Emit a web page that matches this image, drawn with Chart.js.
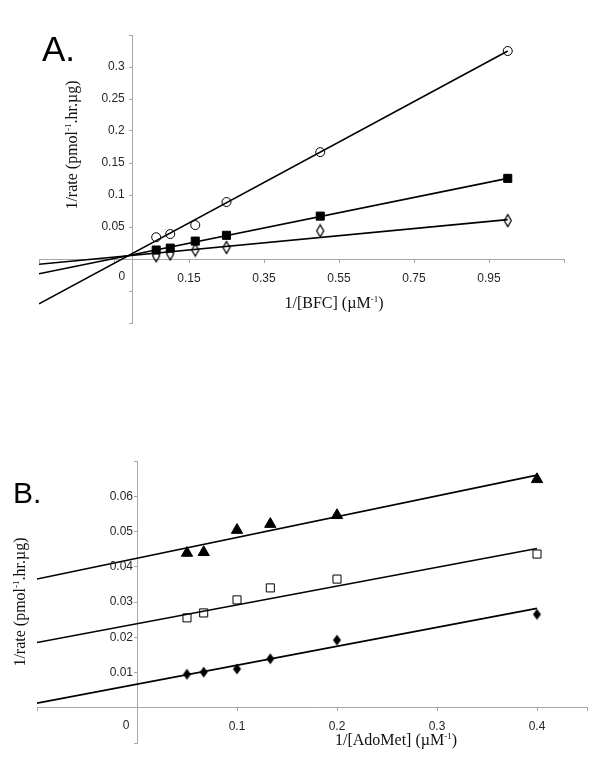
<!DOCTYPE html>
<html>
<head>
<meta charset="utf-8">
<script src="https://cdn.jsdelivr.net/npm/chart.js@4.4.1/dist/chart.umd.min.js"></script>
<style>
  body { margin: 0; background: #fff; }
  #page { position: relative; width: 600px; height: 771px; overflow: hidden; background: #fff; }
  canvas { position: absolute; left: 0; }
  .panel { position: absolute; font-family: "Liberation Sans", Arial, sans-serif; color: #000; line-height: 1; }
  .title { position: absolute; font-family: "Liberation Serif", "Times New Roman", serif; font-size: 16px; color: #111; white-space: nowrap; transform: translate(-50%, -50%); }
  .title.rot { transform: translate(-50%, -50%) rotate(-90deg); }
  .title sup { font-size: 9px; vertical-align: 6px; }
</style>
</head>
<body>
<div id="page">
  <canvas id="chartA" width="600" height="340" style="top:0"></canvas>
  <canvas id="chartB" width="600" height="321" style="top:450px"></canvas>
  <div class="panel" style="left:42px; top:31px; font-size:35px;">A.</div>
  <div class="panel" style="left:13px; top:478px; font-size:30px;">B.</div>
  <div class="title rot" style="left:72px; top:145px;">1/rate (pmol<sup>-1</sup>.hr.µg)</div>
  <div class="title" style="left:334px; top:303px;">1/[BFC] (µM<sup>-1</sup>)</div>
  <div class="title rot" style="left:20px; top:602px;">1/rate (pmol<sup>-1</sup>.hr.µg)</div>
  <div class="title" style="left:396px; top:740px;">1/[AdoMet] (µM<sup>-1</sup>)</div>
</div>
<script>
// panel A: 1/[BFC]
const bfcX = [0.0625, 0.1, 0.1667, 0.25, 0.5, 1.0];
const rateCircle = [0.034, 0.039, 0.053, 0.089, 0.167, 0.325];
const rateSquare = [0.014, 0.017, 0.028, 0.037, 0.067, 0.126];
const rateDiamond = [0.005, 0.008, 0.014, 0.018, 0.044, 0.060];
// trend line end points (x = -0.25 and x = 1.0)
const fitXA = [-0.25, 1.0];
const fitCircle = [-0.070, 0.325];
const fitSquare = [-0.023, 0.126];
const fitDiamond = [-0.0083, 0.0615];
const ticksXA = [0.15, 0.35, 0.55, 0.75, 0.95];
const ticksYA = [0.05, 0.1, 0.15, 0.2, 0.25, 0.3];

// panel B: 1/[AdoMet]
const adoX = [0.05, 0.0667, 0.1, 0.1333, 0.2, 0.4];
const rateTriangle = [0.0439, 0.0441, 0.0504, 0.0521, 0.0546, 0.0648];
const rateOpenSq = [0.0255, 0.0269, 0.0306, 0.034, 0.0365, 0.0436];
const rateFilledDia = [0.0095, 0.0101, 0.011, 0.0139, 0.0192, 0.0265];
const fitXB = [-0.1, 0.4];
const fitTriangle = [0.0365, 0.066];
const fitOpenSq = [0.0185, 0.0452];
const fitFilledDia = [0.0013, 0.0282];
const ticksXB = [0.1, 0.2, 0.3, 0.4];
const ticksYB = [0.01, 0.02, 0.03, 0.04, 0.05, 0.06];

const tickFont = { family: "'Liberation Sans', Arial, sans-serif", size: 12 };
const tickCss = "12px 'Liberation Sans', Arial, sans-serif";
const tickColor = "#262626";
const axisColor = "#a8a8a8";

function pts(xs, ys) {
  return xs.map((x, i) => ({ x: x, y: ys[i] }));
}

function fmt(v) {
  return String(+v.toFixed(2));
}

function near(list, v) {
  return list.some((t) => Math.abs(t - v) < 1e-6);
}

// tall diamond marker
function diamond(w, h, filled) {
  const c = document.createElement("canvas");
  c.width = w + 3;
  c.height = h + 3;
  const ctx = c.getContext("2d");
  const cx = c.width / 2;
  const cy = c.height / 2;
  ctx.beginPath();
  ctx.moveTo(cx, cy - h / 2);
  ctx.lineTo(cx + w / 2, cy);
  ctx.lineTo(cx, cy + h / 2);
  ctx.lineTo(cx - w / 2, cy);
  ctx.closePath();
  if (filled) {
    ctx.fillStyle = "#000";
    ctx.fill();
  } else {
    ctx.strokeStyle = "#000";
    ctx.lineWidth = 1.3;
    ctx.stroke();
  }
  return c;
}

function markers(data, style, radius, fill) {
  return {
    data: data,
    showLine: false,
    pointStyle: style,
    pointRadius: radius,
    pointBackgroundColor: fill,
    pointBorderColor: "#000",
    pointBorderWidth: 1,
  };
}

function fitLine(data) {
  return {
    data: data,
    showLine: true,
    borderColor: "#000",
    borderWidth: 1.6,
    pointRadius: 0,
  };
}

// y labels sit left of the y axis (which crosses at x = 0), and the "0" goes just left of it too
function axisText(yLabels, gap) {
  return {
    id: "axisText",
    afterDraw(chart) {
      const ctx = chart.ctx;
      const xs = chart.scales.x;
      const ys = chart.scales.y;
      const axisX = xs.getPixelForValue(0);
      ctx.save();
      ctx.font = tickCss;
      ctx.fillStyle = tickColor;
      ctx.textAlign = "right";
      ctx.textBaseline = "middle";
      ys.ticks.forEach((t) => {
        if (near(yLabels, t.value)) {
          ctx.fillText(fmt(t.value), axisX - gap, ys.getPixelForValue(t.value));
        }
      });
      ctx.textAlign = "center";
      ctx.textBaseline = "top";
      ctx.fillText("0", axisX - 11, ys.getPixelForValue(0) + 12);
      ctx.restore();
    },
  };
}

function axes(xMin, xMax, xStep, xLabels, yMin, yMax, yStep) {
  return {
    x: {
      type: "linear",
      min: xMin,
      max: xMax,
      position: { y: 0 },
      afterFit: (s) => { s.height = 0; },
      grid: { drawOnChartArea: false, tickLength: 3, tickColor: axisColor },
      border: { color: axisColor, width: 1 },
      ticks: {
        stepSize: xStep,
        autoSkip: false,
        maxRotation: 0,
        padding: 9,
        font: tickFont,
        color: tickColor,
        callback: (v) => (near(xLabels, v) ? fmt(v) : ""),
      },
    },
    y: {
      type: "linear",
      min: yMin,
      max: yMax,
      position: { x: 0 },
      afterFit: (s) => { s.width = 0; },
      grid: { drawOnChartArea: false, tickLength: 3, tickColor: axisColor },
      border: { color: axisColor, width: 1 },
      ticks: { stepSize: yStep, autoSkip: false, display: false },
    },
  };
}

const baseOptions = {
  responsive: false,
  animation: false,
  plugins: { legend: { display: false }, tooltip: { enabled: false } },
};

new Chart(document.getElementById("chartA"), {
  type: "scatter",
  data: {
    datasets: [
      fitLine(pts(fitXA, fitCircle)),
      fitLine(pts(fitXA, fitSquare)),
      fitLine(pts(fitXA, fitDiamond)),
      markers(pts(bfcX, rateCircle), "circle", 4.5, "rgba(0,0,0,0)"),
      markers(pts(bfcX, rateSquare), "rect", 5.7, "#000"),
      markers(pts(bfcX, rateDiamond), diamond(7, 12, false), 5, "#000"),
    ],
  },
  options: {
    ...baseOptions,
    layout: { padding: { left: 39, right: 36, top: 35, bottom: 17 } },
    scales: axes(-0.25, 1.15, 0.2, ticksXA, -0.1, 0.35, 0.05),
  },
  plugins: [axisText(ticksYA, 8)],
});

new Chart(document.getElementById("chartB"), {
  type: "scatter",
  data: {
    datasets: [
      fitLine(pts(fitXB, fitTriangle)),
      fitLine(pts(fitXB, fitOpenSq)),
      fitLine(pts(fitXB, fitFilledDia)),
      markers(pts(adoX, rateTriangle), "triangle", 6.5, "#000"),
      markers(pts(adoX, rateOpenSq), "rect", 5.7, "rgba(0,0,0,0)"),
      markers(pts(adoX, rateFilledDia), diamond(8, 11, true), 5, "#000"),
    ],
  },
  options: {
    ...baseOptions,
    layout: { padding: { left: 37, right: 13, top: 11, bottom: 28 } },
    scales: axes(-0.1, 0.45, 0.1, ticksXB, -0.01, 0.07, 0.01),
  },
  plugins: [axisText(ticksYB, 4)],
});
</script>
</body>
</html>
